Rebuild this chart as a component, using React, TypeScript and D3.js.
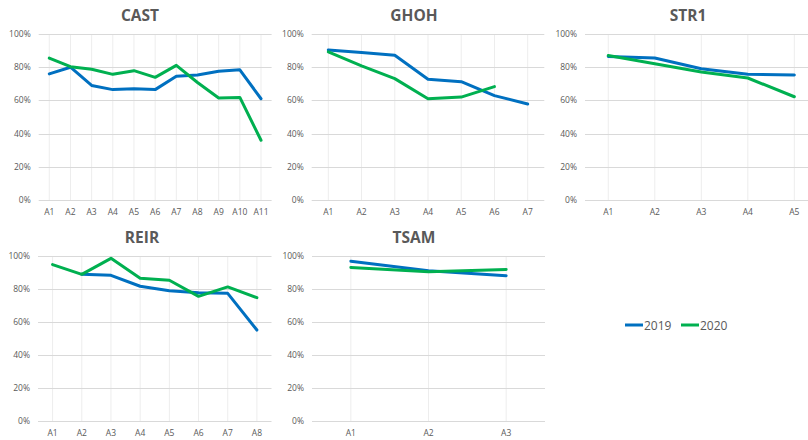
import React from "react";
import * as d3 from "d3";

const seriesNames = ["2019", "2020"];
const seriesColors = ["#0070C0", "#00B050"];
const yTicks = [0, 0.2, 0.4, 0.6, 0.8, 1.0];

const castCats = ["A1", "A2", "A3", "A4", "A5", "A6", "A7", "A8", "A9", "A10", "A11"];
const cast2019 = [76, 80, 69, 66.5, 67, 66.5, 74.5, 75.3, 77.5, 78.4, 61];
const cast2020 = [85.5, 80.3, 78.8, 75.7, 77.9, 73.9, 81.1, 70.8, 61.4, 61.8, 36];

const ghohCats = ["A1", "A2", "A3", "A4", "A5", "A6", "A7"];
const ghoh2019 = [90.4, 88.8, 87.2, 72.7, 71.3, 62.9, 57.8];
const ghoh2020 = [89.2, 80.8, 73.1, 61, 62, 68.3, null];

const str1Cats = ["A1", "A2", "A3", "A4", "A5"];
const str12019 = [86.5, 85.5, 79.1, 75.7, 75.3];
const str12020 = [87.1, 82.1, 77.1, 73.5, 62.2];

const reirCats = ["A1", "A2", "A3", "A4", "A5", "A6", "A7", "A8"];
const reir2019 = [null, 88.9, 88.3, 81.7, 79, 77.8, 77.4, 55.2];
const reir2020 = [94.8, 88.9, 98.6, 86.5, 85.3, 75.6, 81.3, 74.8];

const tsamCats = ["A1", "A2", "A3"];
const tsam2019 = [96.8, 91.1, 88.1];
const tsam2020 = [93.1, 90.5, 91.9];

type Panel = {
  title: string;
  cats: string[];
  s2019: (number | null)[];
  s2020: (number | null)[];
};

const panels: Panel[] = [
  { title: "CAST", cats: castCats, s2019: cast2019, s2020: cast2020 },
  { title: "GHOH", cats: ghohCats, s2019: ghoh2019, s2020: ghoh2020 },
  { title: "STR1", cats: str1Cats, s2019: str12019, s2020: str12020 },
  { title: "REIR", cats: reirCats, s2019: reir2019, s2020: reir2020 },
  { title: "TSAM", cats: tsamCats, s2019: tsam2019, s2020: tsam2020 },
];

// layout (positions only)
const layouts = [
  { left: 38.7, right: 271.6, top: 34, bottom: 200, titleX: 140, titleY: 20.7 },
  { left: 311.7, right: 544.3, top: 34, bottom: 200, titleX: 414, titleY: 20.7 },
  { left: 585, right: 817.6, top: 34, bottom: 200, titleX: 688, titleY: 20.7 },
  { left: 38, right: 271.5, top: 256, bottom: 421.3, titleX: 142, titleY: 243 },
  { left: 312, right: 545, top: 256, bottom: 421.3, titleX: 414, titleY: 243 },
];

const FONT = "'Open Sans', 'Liberation Sans', sans-serif";
const TXT = "#595959";

function ChartPanel({ p, l }: { p: Panel; l: typeof layouts[0] }) {
  const x = d3.scaleBand<string>().domain(p.cats).range([l.left, l.right]).padding(0);
  const bw = x.bandwidth();
  const cx = (c: string) => (x(c) as number) + bw / 2;
  const y = d3.scaleLinear().domain([0, 1]).range([l.bottom, l.top]);
  const line = d3
    .line<number | null>()
    .defined((d) => d !== null)
    .x((_, i) => cx(p.cats[i]))
    .y((d) => y((d as number) / 100));
  const series = [p.s2019, p.s2020];
  return (
    <g>
      <text
        x={l.titleX}
        y={l.titleY}
        textAnchor="middle"
        fontFamily={FONT}
        fontWeight="bold"
        fontSize={15.5}
        fill={TXT}
      >
        {p.title}
      </text>
      {p.cats.map((c) => (
        <line key={"v" + c} x1={cx(c)} x2={cx(c)} y1={l.top} y2={l.bottom} stroke="#EDEDED" strokeWidth={1} />
      ))}
      {yTicks.map((t) => (
        <g key={"t" + t}>
          <line x1={l.left} x2={l.right} y1={Math.round(y(t)) + 0.5} y2={Math.round(y(t)) + 0.5} stroke="#D9D9D9" strokeWidth={1} />
          <text x={l.left - 8} y={y(t) + 3} textAnchor="end" fontFamily={FONT} fontSize={8.5} fill={TXT}>
            {d3.format(".0%")(t)}
          </text>
        </g>
      ))}
      {p.cats.map((c) => (
        <text key={"x" + c} x={cx(c)} y={l.bottom + 15} textAnchor="middle" fontFamily={FONT} fontSize={8.5} fill={TXT}>
          {c}
        </text>
      ))}
      {series.map((s, i) => (
        <path key={"s" + i} d={line(s) || ""} fill="none" stroke={seriesColors[i]} strokeWidth={3} strokeLinejoin="round" strokeLinecap="round" />
      ))}
    </g>
  );
}

export default function App() {
  return (
    <svg
      width={808}
      height={440}
      style={{ position: "absolute", left: 0, top: 0, background: "#fff" }}
    >
      <rect x={0} y={0} width={808} height={440} fill="#fff" />
      {panels.map((p, i) => (
        <ChartPanel key={p.title} p={p} l={layouts[i]} />
      ))}
      <g>
        {seriesNames.map((n, i) => (
          <g key={n} transform={`translate(${625 + i * 56},0)`}>
            <line x1={0} x2={18} y1={325} y2={325} stroke={seriesColors[i]} strokeWidth={3} />
            <text x={19} y={329.5} fontFamily={FONT} fontSize={12} fill={TXT}>
              {n}
            </text>
          </g>
        ))}
      </g>
    </svg>
  );
}
